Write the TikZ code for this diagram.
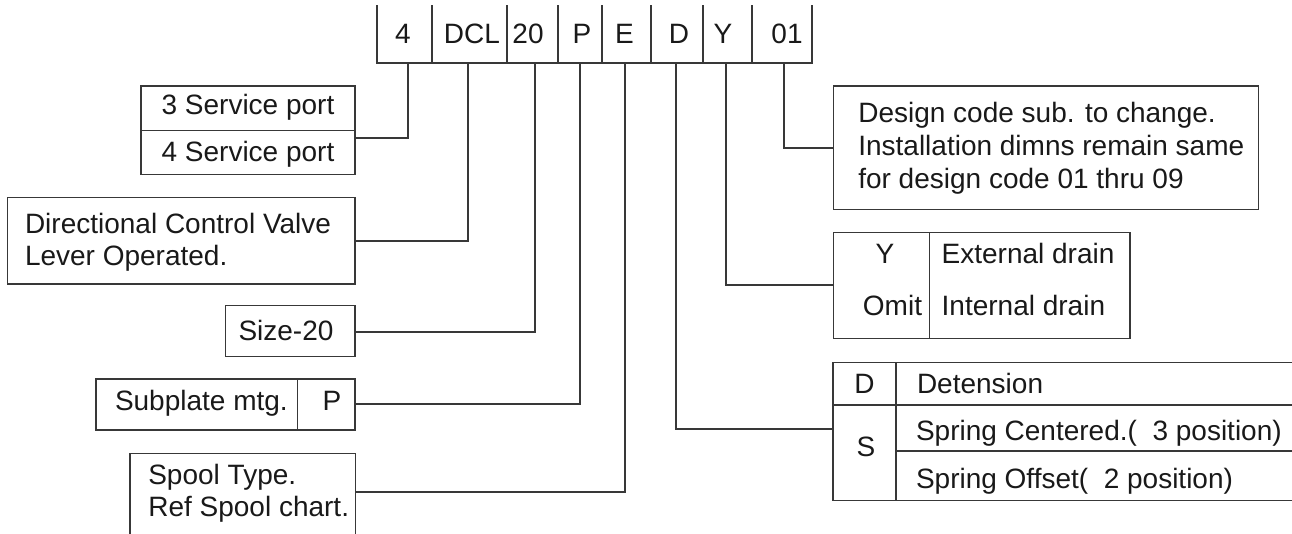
\documentclass[tikz,border=0pt]{standalone}
\usepackage{fontspec}
\setmainfont{Liberation Sans}
\begin{document}
\begin{tikzpicture}[x=1pt,y=-1pt,
  ln/.style={draw=black!78,line width=1.1pt},
  box/.style={ln,rectangle,inner sep=0pt,outer sep=0pt},
  txt/.style={inner sep=0pt,outer sep=0pt,font=\fontsize{28}{33}\selectfont,text=black!90},
  conn/.style={ln}]
\useasboundingbox (0,0) rectangle (1292,533);
% ---------- code row ----------
\draw[ln] (377,5) -- (377,63) -- (812,63) -- (812,5);
\foreach \xx in {432,507,558,602,651,703,752} \draw[ln] (\xx,5) -- (\xx,63);
\node[txt,anchor=base] (c1) at (403,43) {4};
\node[txt,anchor=base] (c2) at (472,43) {DCL};
\node[txt,anchor=base] (c3) at (528,43) {20};
\node[txt,anchor=base] (c4) at (582,43) {P};
\node[txt,anchor=base] (c5) at (624.5,43) {E};
\node[txt,anchor=base] (c6) at (679,43) {D};
\node[txt,anchor=base] (c7) at (723,43) {Y};
\node[txt,anchor=base] (c8) at (787,43) {01};
\coordinate (t1) at (408,63);
\coordinate (t2) at (468,63);
\coordinate (t3) at (535,63);
\coordinate (t4) at (580,63);
\coordinate (t5) at (625,63);
\coordinate (t6) at (676,63);
\coordinate (t7) at (726,63);
\coordinate (t8) at (784,63);
% ---------- left boxes ----------
\node[box,minimum width=214pt,minimum height=88.5pt] (svc) at (248,130.25) {};
\draw[ln] (svc.west |- 0,130.7) -- (svc.east |- 0,130.7);
\node[txt,anchor=base] (svc3) at (248,114) {3 Service port};
\node[txt,anchor=base] (svc4) at (248,161.3) {4 Service port};

\node[box,minimum width=347.7pt,minimum height=86.7pt] (dcv) at (181.15,240.65) {};
\node[txt,anchor=base west] (dcv1) at (25,233) {Directional Control Valve};
\node[txt,anchor=base west] (dcv2) at (25,265) {Lever Operated.};

\node[box,minimum width=129.3pt,minimum height=51pt] (size) at (290.35,331.2) {};
\node[txt,anchor=base] (size1) at (286,340.7) {Size-20};

\node[box,minimum width=259pt,minimum height=51pt] (sub) at (225.5,404.5) {};
\draw[ln] (sub.north -| 297.3,0) -- (sub.south -| 297.3,0);
\node[txt,anchor=base west] (sub1) at (115,410) {Subplate mtg.};
\node[txt,anchor=base] (sub2) at (332,410) {P};

\node[box,minimum width=225.7pt,minimum height=106.7pt] (spool) at (242.85,506.65) {};
\node[txt,anchor=base west] (spool1) at (148.3,484.3) {Spool Type.};
\node[txt,anchor=base west] (spool2) at (148.3,516.7) {Ref Spool chart.};
% ---------- right boxes ----------
\node[box,minimum width=425pt,minimum height=123.3pt] (des) at (1045.8,147.65) {};
\node[txt,anchor=base west] (des1) at (858.3,122) {Design code sub. to change.};
\node[txt,anchor=base west] (des2) at (858.3,155) {Installation dimns remain same};
\node[txt,anchor=base west] (des3) at (858.3,188) {for design code 01 thru 09};

\node[box,minimum width=296.7pt,minimum height=106.4pt] (drn) at (981.65,285.5) {};
\draw[ln] (drn.north -| 929.3,0) -- (drn.south -| 929.3,0);
\node[txt,anchor=base] (drn1) at (885,263) {Y};
\node[txt,anchor=base] (drn2) at (892.5,315) {Omit};
\node[txt,anchor=base west] (drn3) at (941.7,263) {External drain};
\node[txt,anchor=base west] (drn4) at (941.7,315) {Internal drain};

\node[box,minimum width=463pt,minimum height=138pt] (det) at (1064.5,431.7) {};
\draw[ln] (det.north -| 896,0) -- (det.south -| 896,0);
\draw[ln] (det.west |- 0,405) -- (det.east |- 0,405);
\draw[ln] (896,451) -- (det.east |- 0,451);
\node[txt,anchor=base] (det1) at (864.5,393.5) {D};
\node[txt,anchor=base west] (det2) at (917,393.5) {Detension};
\node[txt,anchor=base] (det3) at (866,456) {S};
\node[txt,anchor=base west] (det4) at (916,440) {Spring Centered.(\ \ 3 position)};
\node[txt,anchor=base west] (det5) at (916,488) {Spring Offset(\ \ 2 position)};
% ---------- connectors ----------
\draw[conn] (t1) |- (svc.east |- 0,138);
\draw[conn] (t2) |- (dcv.east |- 0,241);
\draw[conn] (t3) |- (size.east |- 0,332);
\draw[conn] (t4) |- (sub.east |- 0,404);
\draw[conn] (t5) |- (spool.east |- 0,492);
\draw[conn] (t6) |- (det.west |- 0,429);
\draw[conn] (t7) |- (drn.west |- 0,285);
\draw[conn] (t8) |- (des.west |- 0,148);
\end{tikzpicture}
\end{document}
